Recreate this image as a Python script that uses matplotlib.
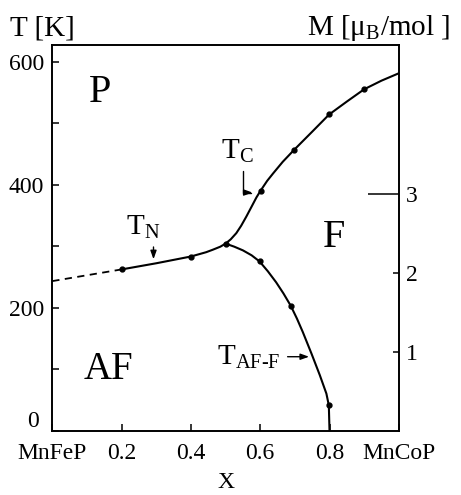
import numpy as np
import matplotlib.pyplot as plt
from matplotlib.transforms import blended_transform_factory

plt.rcParams["font.family"] = ["Liberation Serif", "DejaVu Serif"]
plt.rcParams["mathtext.fontset"] = "custom"
plt.rcParams["mathtext.rm"] = "Liberation Serif"
plt.rcParams["mathtext.it"] = "Liberation Serif:italic"

# --- data (x = Co content, T in K) ---
xticks = [0.0, 0.2, 0.4, 0.6, 0.8, 1.0]
xtick_labels = ["MnFeP", "0.2", "0.4", "0.6", "0.8", "MnCoP"]
t_ticks = [0, 100, 200, 300, 400, 500, 600]
t_tick_labels = ["", "", "200", "", "400", "", "600"]
m_ticks = [1, 2, 3]
t_top = 627
k_per_muB = 128.0

# T_N extrapolated (dashed) and measured part
tn_dash_x = [0.0, 0.2]
tn_dash_t = [243, 262]
tn_x = [0.2, 0.3, 0.4, 0.444, 0.463, 0.485, 0.5]
tn_t = [262, 272, 283, 290, 294, 299, 304]

# T_C branch
tc_x = [0.5, 0.515, 0.531, 0.545, 0.56, 0.575, 0.589, 0.601, 0.62, 0.637,
        0.665, 0.697, 0.75, 0.799, 0.85, 0.9, 0.95, 1.0]
tc_t = [304, 311, 321, 333, 348, 364, 379, 390, 406, 418,
        437, 456, 486, 514, 535, 555, 569, 581]

# T_AF-F branch
taf_x = [0.5, 0.525, 0.55, 0.575, 0.598, 0.622, 0.646, 0.667, 0.688, 0.706,
         0.723, 0.748, 0.772, 0.791, 0.798, 0.8]
taf_t = [304, 299, 293, 285, 275, 259, 241, 223, 203, 182,
         160, 125, 90, 60, 41, 0]

# measured points
pts_x = [0.2, 0.4, 0.5, 0.601, 0.697, 0.799, 0.9, 0.598, 0.688, 0.798]
pts_t = [262, 283, 304, 390, 456, 514, 555, 275, 203, 41]

fig = plt.figure(figsize=(4.61, 4.95), dpi=100)
ax = fig.add_axes([0.1135, 0.1303, 0.7516, 0.7788])

ax.plot(tn_dash_x, tn_dash_t, color="k", lw=1.3, ls=(0, (4, 3)))
ax.plot(tn_x, tn_t, color="k", lw=1.5)
ax.plot(tc_x, tc_t, color="k", lw=1.5)
ax.plot(taf_x, taf_t, color="k", lw=1.5)
ax.plot(pts_x, pts_t, "o", color="k", ms=3.5)

ax.set_xlim(0, 1)
ax.set_ylim(0, t_top)
ax.set_xticks(xticks)
ax.set_xticklabels(xtick_labels)
ax.set_yticks(t_ticks)
ax.set_yticklabels(t_tick_labels)
ax.tick_params(axis="x", direction="in", length=5, width=1.1, labelsize=17, pad=9)
ax.tick_params(axis="y", direction="in", length=5, width=1.1, labelsize=17, pad=6)
trans = blended_transform_factory(ax.transAxes, ax.transData)
ax.text(-0.04, 15, "0", transform=trans, ha="right", va="center", fontsize=17)
ax.set_xlabel("X", fontsize=17, labelpad=6)

ax2 = ax.twinx()
ax2.set_ylim(0, t_top / k_per_muB)
ax2.set_yticks(m_ticks)
ax2.tick_params(direction="in", length=4, width=1.1, labelsize=17, pad=5)
ax2.yaxis.get_major_ticks()[m_ticks.index(3)].tick2line.set_markersize(22)

for a in (ax, ax2):
    for s in a.spines.values():
        s.set_linewidth(1.2)

# phase labels
ax.text(0.139, 549, "P", fontsize=29, ha="center", va="center")
ax.text(0.162, 99, "AF", fontsize=28, ha="center", va="center")
ax.text(0.812, 314, "F", fontsize=29, ha="center", va="center")

# transition labels with arrows
arrow = dict(arrowstyle="-|>,head_length=0.5,head_width=0.18", color="k", lw=1.0)
ax.text(0.214, 318, r"T$_{\mathrm{N}}$", fontsize=21, ha="left", va="baseline")
ax.annotate("", xy=(0.292, 274), xytext=(0.292, 303), arrowprops=arrow)

ax.text(0.488, 442, r"T$_{\mathrm{C}}$", fontsize=21, ha="left", va="baseline")
ax.annotate("", xy=(0.586, 387), xytext=(0.549, 426),
            arrowprops=dict(arrow, connectionstyle="angle,angleA=90,angleB=0,rad=0"))

ax.text(0.474, 107, r"T$_{\mathrm{AF\text{-}F}}$", fontsize=21, ha="left", va="baseline")
ax.annotate("", xy=(0.749, 120), xytext=(0.671, 120), arrowprops=arrow)

# axis titles
fig.text(0.022, 0.929, "T [K]", fontsize=21, ha="left", va="baseline")
fig.text(0.666, 0.929, r"M [μ$_{\mathrm{B}}$/mol ]", fontsize=21, ha="left", va="baseline")

fig.savefig("out.png", dpi=100)
